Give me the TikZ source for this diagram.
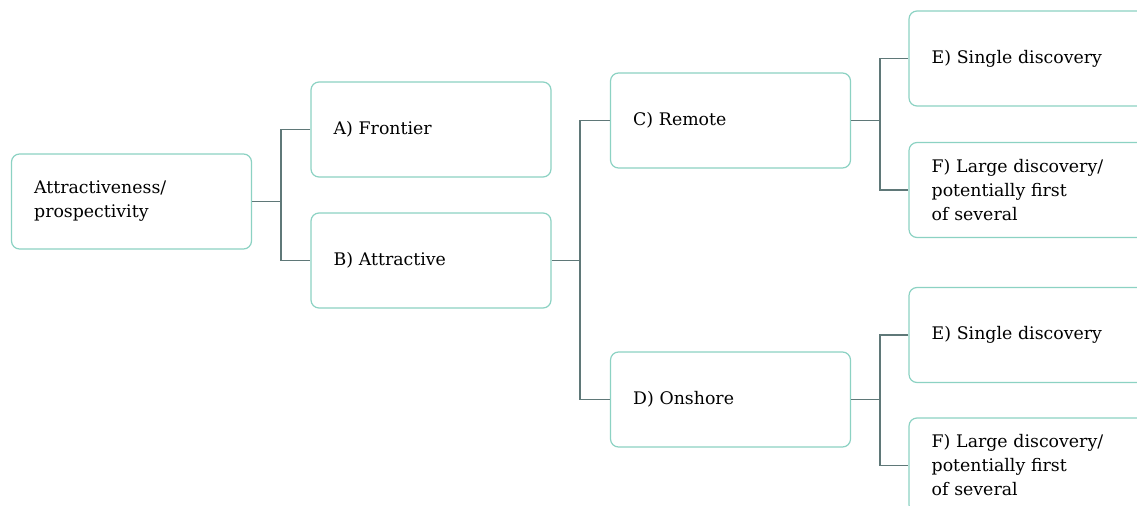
\documentclass[tikz,border=0pt]{standalone}
\usepackage{fontspec}
\setmainfont{DejaVu Serif}
\definecolor{boxline}{RGB}{140,210,195}
\definecolor{linkline}{RGB}{95,120,120}
\tikzstyle{item}=[rectangle,rounded corners=6pt,draw=boxline,line width=0.9pt,fill=white,minimum width=180pt,minimum height=71.25pt,text width=146pt,inner xsep=17pt,align=left,font=\fontsize{13pt}{18pt}\selectfont]
\tikzstyle{link}=[draw=linkline,line width=1pt]

\begin{document}
\begin{tikzpicture}[x=0.75pt,y=-0.75pt]
		\useasboundingbox (0,0) rectangle (1137,506);
		\clip (0,0) rectangle (1137,506);
		\node (root) at (131.5,201.5) [item] {Attractiveness/\\prospectivity};
		\node (a) at (431,129.5) [item] {A) Frontier};
		\node (b) at (431,260.5) [item] {B) Attractive};
		\node (c) at (730.5,120.5) [item] {C) Remote};
		\node (d) at (730.5,399.5) [item] {D) Onshore};
		\node (e1) at (1029,58.5) [item] {E) Single discovery};
		\node (f1) at (1029,190) [item] {F) Large discovery/\\potentially first\\of several};
		\node (e2) at (1029,335) [item] {E) Single discovery};
		\node (f2) at (1029,465.5) [item] {F) Large discovery/\\potentially first\\of several};
		
		% branch points
		\coordinate (j1) at (281,201.5);
		\coordinate (j2) at (580,260.5);
		\coordinate (j3) at (880,120.5);
		\coordinate (j4) at (880,399.5);
		
		\draw [link] (root)--(j1);
		\draw [link] (a.west)-|(j1)|-(b.west);
		\draw [link] (b)--(j2);
		\draw [link] (c.west)-|(j2)|-(d.west);
		\draw [link] (c)--(j3);
		\draw [link] (e1.west)-|(j3)|-(f1.west);
		\draw [link] (d)--(j4);
		\draw [link] (e2.west)-|(j4)|-(f2.west);
	\end{tikzpicture}
\end{document}
